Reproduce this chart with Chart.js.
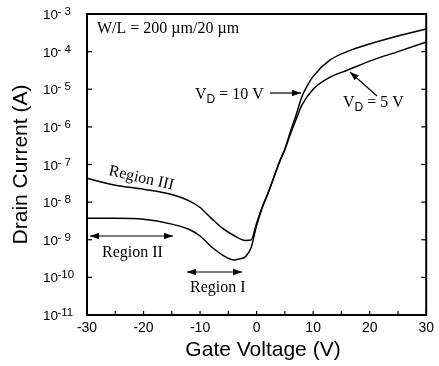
<!DOCTYPE html>
<html>
<head>
<meta charset="utf-8">
<script src="https://cdn.jsdelivr.net/npm/chart.js@4.4.1/dist/chart.umd.min.js"></script>
<style>
  html, body { margin: 0; padding: 0; background: #fff; }
</style>
</head>
<body>
<canvas id="idChart" width="439" height="366"></canvas>
<script>
// transfer curves, drain current (A) vs gate voltage (V)
const gateVoltage10 = [-30, -25, -20, -15, -12, -10, -8, -6, -4, -2, -1, 0, 1, 2, 3, 4, 5, 6, 7, 8, 9, 10, 13, 16, 20, 25, 30];
const drainCurrent10 = [4.3e-8, 2.8e-8, 2.2e-8, 1.6e-8, 1.1e-8, 7.2e-9, 3.7e-9, 2.0e-9, 1.3e-9, 9.6e-10, 9.8e-10,
  2.75e-9, 7.4e-9, 1.7e-8, 4.4e-8, 1.15e-7, 2.6e-7, 7.6e-7, 2.1e-6, 6.3e-6, 1.26e-5, 2.2e-5, 6.0e-5, 1.0e-4, 1.6e-4, 2.6e-4, 4.0e-4];

const gateVoltage5 = [-30, -25, -20, -15, -12, -10, -8, -6, -4, -3, -2, -1, 0, 1, 2, 3, 4, 5, 6, 7, 8, 10, 13, 16, 20, 25, 30];
const drainCurrent5 = [3.7e-9, 3.7e-9, 3.5e-9, 2.6e-9, 1.9e-9, 1.26e-9, 6.5e-10, 3.9e-10, 2.9e-10, 3.1e-10, 3.5e-10, 6.0e-10,
  2.4e-9, 7.1e-9, 1.7e-8, 4.3e-8, 1.1e-7, 2.5e-7, 6.6e-7, 1.6e-6, 3.8e-6, 1.0e-5, 2.1e-5, 3.2e-5, 5.6e-5, 1.0e-4, 1.8e-4];

const xTicks = [-30, -20, -10, 0, 10, 20, 30];
const yExponents = [-3, -4, -5, -6, -7, -8, -9, -10, -11];

const SANS = "'Liberation Sans', Arial, sans-serif";
const SERIF = "'Liberation Serif', 'Times New Roman', serif";

function toPoints(xs, ys) {
  return xs.map((v, i) => ({ x: v, y: ys[i] }));
}

function line(ctx, x1, y1, x2, y2) {
  ctx.beginPath();
  ctx.moveTo(x1, y1);
  ctx.lineTo(x2, y2);
  ctx.stroke();
}

function head(ctx, x1, y1, x2, y2) {
  const ang = Math.atan2(y2 - y1, x2 - x1);
  const len = 9, w = 3.2;
  ctx.beginPath();
  ctx.moveTo(x2, y2);
  ctx.lineTo(x2 - len * Math.cos(ang) + w * Math.sin(ang), y2 - len * Math.sin(ang) - w * Math.cos(ang));
  ctx.lineTo(x2 - len * Math.cos(ang) - w * Math.sin(ang), y2 - len * Math.sin(ang) + w * Math.cos(ang));
  ctx.closePath();
  ctx.fill();
}

function arrow(ctx, x1, y1, x2, y2, both) {
  line(ctx, x1, y1, x2, y2);
  head(ctx, x1, y1, x2, y2);
  if (both) head(ctx, x2, y2, x1, y1);
}

// "V" with subscript D, then the rest of the label
function vdLabel(ctx, x, base, rest) {
  ctx.textAlign = 'left';
  ctx.textBaseline = 'alphabetic';
  ctx.font = '16px ' + SERIF;
  ctx.fillText('V', x, base);
  x += ctx.measureText('V').width;
  ctx.font = '12px ' + SANS;
  ctx.fillText('D', x, base + 4);
  x += ctx.measureText('D').width;
  ctx.font = '16px ' + SERIF;
  ctx.fillText(rest, x, base);
}

const decorations = {
  id: 'decorations',
  afterDraw(chart) {
    const { ctx, chartArea: a, scales: { x, y } } = chart;
    ctx.save();
    ctx.strokeStyle = '#000';
    ctx.fillStyle = '#000';

    // frame
    ctx.lineWidth = 2;
    ctx.strokeRect(a.left, a.top, a.right - a.left, a.bottom - a.top);

    // inward tick marks
    ctx.lineWidth = 1.2;
    yExponents.forEach(e => {
      const py = y.getPixelForValue(Math.pow(10, e));
      line(ctx, a.left, py, a.left + 5, py);
      line(ctx, a.right, py, a.right - 5, py);
    });
    for (let v = -30; v <= 30; v += 5) {
      const px = x.getPixelForValue(v);
      line(ctx, px, a.bottom, px, a.bottom - 4);
    }

    // decade labels with superscript exponent
    ctx.textAlign = 'left';
    ctx.textBaseline = 'alphabetic';
    yExponents.forEach(e => {
      const py = y.getPixelForValue(Math.pow(10, e));
      ctx.font = '13.5px ' + SANS;
      ctx.fillText('10', 43, py + 5);
      ctx.font = '11.5px ' + SANS;
      const exp = e > -10 ? '- ' + (-e) : String(e);
      ctx.fillText(exp, 57.5, py + 1);
    });

    // x axis title, a little right of the plot centre
    ctx.font = '21px ' + SANS;
    ctx.textAlign = 'center';
    ctx.textBaseline = 'middle';
    ctx.fillText('Gate Voltage (V)', 263, 350);

    // annotations
    ctx.textAlign = 'left';
    ctx.textBaseline = 'alphabetic';
    ctx.font = '16px ' + SERIF;
    ctx.fillText('W/L = 200 \u00b5m/20 \u00b5m', 97, 33);

    vdLabel(ctx, 195, 99, ' = 10 V');
    ctx.lineWidth = 1.2;
    arrow(ctx, 270, 93, 301, 93);

    vdLabel(ctx, 343, 107, ' = 5 V');
    arrow(ctx, 377, 96, 350, 72);

    ctx.font = '16px ' + SERIF;
    ctx.save();
    ctx.translate(108, 175);
    ctx.rotate(12.7 * Math.PI / 180);
    ctx.fillText('Region III', 0, 0);
    ctx.restore();

    arrow(ctx, 90, 236, 173, 236, true);
    ctx.fillText('Region II', 102, 257);

    arrow(ctx, 187, 272, 242, 272, true);
    ctx.fillText('Region I', 190, 292);

    ctx.restore();
  }
};

const data = {
  datasets: [
    {
      label: 'VD = 10 V',
      data: toPoints(gateVoltage10, drainCurrent10),
      borderColor: '#000',
      borderWidth: 1.5,
      pointRadius: 0,
      cubicInterpolationMode: 'monotone'
    },
    {
      label: 'VD = 5 V',
      data: toPoints(gateVoltage5, drainCurrent5),
      borderColor: '#000',
      borderWidth: 1.5,
      pointRadius: 0,
      cubicInterpolationMode: 'monotone'
    }
  ]
};

const config = {
  type: 'line',
  data: data,
  options: {
    responsive: false,
    animation: false,
    layout: { padding: { top: 14, right: 12, left: 0, bottom: 0 } },
    plugins: { legend: { display: false }, tooltip: { enabled: false } },
    scales: {
      x: {
        type: 'linear',
        min: -30,
        max: 30,
        afterBuildTicks: (s) => { s.ticks = xTicks.map(v => ({ value: v })); },
        ticks: {
          color: '#000',
          font: { family: SANS, size: 14 },
          padding: 5,
          maxRotation: 0,
          autoSkip: false
        },
        grid: { display: false, drawTicks: false },
        border: { display: false },
        title: { display: false },
        afterFit: (s) => { s.height = 51; }
      },
      y: {
        type: 'logarithmic',
        min: 1e-11,
        max: 1e-3,
        afterBuildTicks: (s) => { s.ticks = yExponents.map(e => ({ value: Math.pow(10, e) })); },
        ticks: { display: false },
        grid: { display: false, drawTicks: false },
        border: { display: false },
        title: {
          display: true,
          text: 'Drain Current (A)',
          color: '#000',
          font: { family: SANS, size: 21 },
          padding: { top: 9, bottom: 0 }
        },
        afterFit: (s) => { s.width = 87; }
      }
    }
  },
  plugins: [decorations]
};

const myChart = new Chart(document.getElementById('idChart'), config);
</script>
</body>
</html>
